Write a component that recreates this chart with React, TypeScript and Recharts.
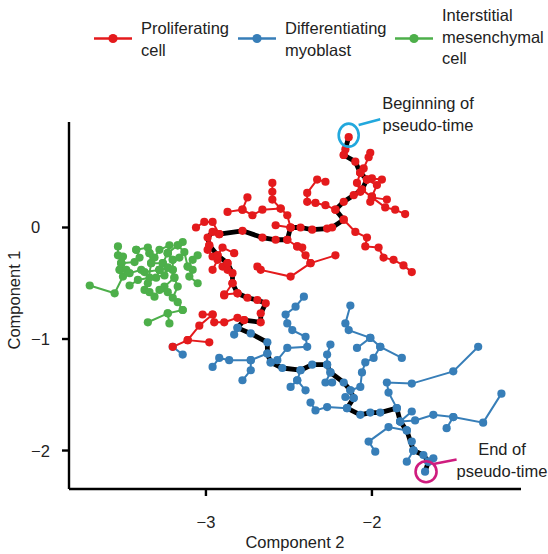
import React from 'react';
import { ScatterChart, Scatter, XAxis, YAxis, ReferenceDot, ReferenceLine } from 'recharts';

type P = [number, number];

// ---- data (Component 2 = x, Component 1 = y) ----
const trajectoryProliferating: P[] = [
  [-2.14, 0.81], [-2.17, 0.65], [-2.10, 0.59], [-2.07, 0.49], [-2.03, 0.43], [-2.06, 0.34],
  [-2.11, 0.29], [-2.17, 0.23], [-2.22, 0.16], [-2.17, 0.07], [-2.24, 0.00], [-2.27, -0.01],
  [-2.36, -0.02], [-2.43, 0.00], [-2.49, 0.00], [-2.51, -0.11], [-2.58, -0.11], [-2.66, -0.09],
  [-2.78, -0.03], [-2.92, -0.06], [-2.96, -0.04], [-2.99, -0.09], [-2.98, -0.16], [-2.93, -0.25],
  [-2.87, -0.32], [-2.84, -0.41], [-2.84, -0.50], [-2.81, -0.59], [-2.75, -0.63], [-2.69, -0.65],
  [-2.64, -0.68], [-2.67, -0.77], [-2.67, -0.85], [-2.77, -0.83],
];

const trajectoryMyoblast: P[] = [
  [-2.81, -0.90], [-2.73, -0.95], [-2.63, -1.03], [-2.63, -1.13], [-2.61, -1.21], [-2.54, -1.26],
  [-2.43, -1.28], [-2.36, -1.23], [-2.27, -1.23], [-2.25, -1.30], [-2.17, -1.39], [-2.13, -1.46],
  [-2.11, -1.53], [-2.15, -1.62], [-2.07, -1.68], [-2.01, -1.66], [-1.95, -1.66], [-1.85, -1.62],
  [-1.83, -1.74], [-1.79, -1.82], [-1.75, -2.00], [-1.69, -2.04], [-1.66, -2.10], [-1.68, -2.19],
];

const proliferatingBranches: P[][] = [
  [[-2.17, 0.65], [-2.16, 0.70]],
  [[-2.07, 0.49], [-2.05, 0.53], [-2.02, 0.63], [-2.01, 0.67]],
  [[-2.03, 0.43], [-2.00, 0.44], [-1.94, 0.43]],
  [[-2.03, 0.43], [-1.97, 0.38], [-2.00, 0.28], [-2.01, 0.23]],
  [[-2.06, 0.34], [-2.00, 0.27], [-1.92, 0.18], [-1.86, 0.16], [-1.80, 0.12]],
  [[-2.00, 0.27], [-1.91, 0.25]],
  [[-2.22, 0.16], [-2.28, 0.20], [-2.34, 0.22], [-2.39, 0.23], [-2.39, 0.31], [-2.33, 0.43], [-2.28, 0.41]],
  [[-2.17, 0.07], [-2.10, -0.04], [-2.03, -0.09], [-2.04, -0.17], [-1.96, -0.18], [-1.93, -0.27], [-1.87, -0.29], [-1.81, -0.34], [-1.76, -0.40]],
  [[-2.49, 0.00], [-2.51, 0.11], [-2.55, 0.17], [-2.60, 0.25], [-2.60, 0.32], [-2.60, 0.40]],
  [[-2.55, 0.17], [-2.66, 0.16], [-2.72, 0.11], [-2.78, 0.16], [-2.87, 0.14]],
  [[-2.78, 0.16], [-2.75, 0.27]],
  [[-2.49, 0.00], [-2.58, 0.02]],
  [[-2.51, -0.11], [-2.45, -0.17], [-2.40, -0.25], [-2.37, -0.32], [-2.22, -0.25]],
  [[-2.37, -0.32], [-2.49, -0.44], [-2.67, -0.38], [-2.69, -0.35]],
  [[-2.45, -0.17], [-2.42, -0.18]],
  [[-3.06, 0.00], [-3.01, 0.05], [-2.96, 0.05], [-2.92, -0.06]],
  [[-2.98, -0.16], [-2.99, -0.20], [-2.96, -0.26], [-2.93, -0.29], [-2.96, -0.38]],
  [[-2.93, -0.25], [-2.90, -0.18], [-2.83, -0.23]],
  [[-2.87, -0.32], [-2.90, -0.35], [-2.87, -0.38]],
  [[-2.84, -0.50], [-2.89, -0.61]],
  [[-2.77, -0.83], [-2.81, -0.81], [-2.89, -0.85], [-2.95, -0.85], [-2.96, -0.78], [-3.02, -0.78]],
  [[-2.96, -0.78], [-3.04, -0.88], [-3.11, -1.01], [-3.20, -1.07]],
  [[-3.11, -1.01], [-2.98, -1.03]],
  [[-2.81, -0.59], [-2.89, -0.60]],
  [[-2.07, 0.49], [-2.09, 0.40], [-2.07, 0.32]],
];

const myoblastBranches: P[][] = [
  [[-2.81, -0.90], [-2.83, -0.96]],
  [[-2.63, -1.13], [-2.73, -1.19], [-2.86, -1.19], [-2.92, -1.17], [-2.96, -1.25]],
  [[-2.73, -1.19], [-2.73, -1.28], [-2.78, -1.37]],
  [[-2.61, -1.21], [-2.57, -1.19], [-2.51, -1.08], [-2.39, -1.07], [-2.40, -0.98], [-2.48, -0.92], [-2.51, -0.86], [-2.52, -0.78], [-2.46, -0.71], [-2.41, -0.62]],
  [[-2.43, -1.28], [-2.45, -1.37], [-2.49, -1.43]],
  [[-2.45, -1.37], [-2.40, -1.46]],
  [[-2.27, -1.23], [-2.27, -1.14], [-2.25, -1.05]],
  [[-2.25, -1.30], [-2.28, -1.39], [-2.24, -1.39]],
  [[-2.13, -1.46], [-2.07, -1.43], [-2.06, -1.30], [-2.04, -1.21], [-1.99, -1.17], [-1.95, -1.07], [-1.82, -1.17]],
  [[-1.95, -1.07], [-2.01, -0.99], [-2.14, -0.92], [-2.16, -0.86], [-2.13, -0.70]],
  [[-2.01, -0.99], [-2.09, -1.08]],
  [[-1.85, -1.62], [-1.90, -1.48], [-1.91, -1.39], [-1.76, -1.40], [-1.51, -1.29], [-1.36, -1.07]],
  [[-1.83, -1.74], [-1.74, -1.73], [-1.63, -1.68], [-1.51, -1.70], [-1.33, -1.75], [-1.22, -1.49]],
  [[-1.51, -1.70], [-1.55, -1.80]],
  [[-1.83, -1.74], [-1.76, -1.65]],
  [[-1.79, -1.82], [-1.90, -1.79], [-2.02, -1.92], [-1.98, -2.01]],
  [[-1.75, -2.00], [-1.79, -2.10]],
  [[-1.66, -2.10], [-1.63, -2.07]],
  [[-2.15, -1.62], [-2.27, -1.61], [-2.34, -1.64], [-2.37, -1.57]],
  [[-2.11, -1.53], [-2.16, -1.52]],
  [[-3.20, -1.07], [-3.14, -1.14]],
  [[-1.75, -2.00], [-1.76, -1.92]],
];

const mesenchymalBranches: P[][] = [
  [[-3.70, -0.52], [-3.55, -0.59], [-3.50, -0.44], [-3.52, -0.38], [-3.51, -0.32], [-3.53, -0.25], [-3.53, -0.17]],
  [[-3.52, -0.38], [-3.48, -0.38], [-3.46, -0.41], [-3.39, -0.38], [-3.37, -0.40], [-3.28, -0.38]],
  [[-3.28, -0.38], [-3.23, -0.36], [-3.20, -0.38], [-3.19, -0.45], [-3.17, -0.53], [-3.20, -0.63], [-3.17, -0.67], [-3.14, -0.74]],
  [[-3.14, -0.74], [-3.23, -0.77], [-3.35, -0.85]],
  [[-3.23, -0.77], [-3.22, -0.86]],
  [[-3.33, -0.32], [-3.35, -0.50], [-3.37, -0.56], [-3.34, -0.58], [-3.31, -0.62]],
  [[-3.42, -0.20], [-3.35, -0.18], [-3.34, -0.23], [-3.33, -0.32], [-3.26, -0.32], [-3.28, -0.38]],
  [[-3.23, -0.23], [-3.20, -0.29], [-3.20, -0.38]],
  [[-3.23, -0.23], [-3.17, -0.16], [-3.14, -0.13]],
  [[-3.17, -0.16], [-3.13, -0.22], [-3.11, -0.35], [-3.08, -0.38], [-3.10, -0.44], [-3.05, -0.50]],
  [[-3.11, -0.35], [-3.08, -0.29], [-3.05, -0.25]],
  [[-3.19, -0.45], [-3.25, -0.53], [-3.23, -0.58], [-3.28, -0.56]],
  [[-3.51, -0.32], [-3.50, -0.26]],
  [[-3.28, -0.38], [-3.30, -0.45]],
  [[-3.26, -0.32], [-3.23, -0.23]],
  [[-3.51, -0.32], [-3.43, -0.31], [-3.40, -0.27], [-3.42, -0.20]],
  [[-3.34, -0.23], [-3.31, -0.27], [-3.28, -0.20], [-3.22, -0.16]],
  [[-3.20, -0.29], [-3.16, -0.27]],
  [[-3.23, -0.36], [-3.25, -0.43], [-3.34, -0.45], [-3.41, -0.47], [-3.46, -0.52]],
];

const xTicks = [-3, -2];
const yTicks = [0, -1, -2];
const legendLabels = [
  ['Proliferating', 'cell'],
  ['Differentiating', 'myoblast'],
  ['Interstitial', 'mesenchymal', 'cell'],
];
const startLabel = ['Beginning of', 'pseudo-time'];
const endLabel = ['End of', 'pseudo-time'];
const startConnector: P[] = [[-2.08, 0.92], [-1.95, 0.97]];
const endConnector: P[] = [[-1.63, -2.12], [-1.49, -2.08]];

// ---- styles ----
const RED = '#E41A1C';
const BLUE = '#377EB8';
const GREEN = '#4DAF4A';
const CYAN = '#22A8DD';
const MAGENTA = '#CF1C7E';
const TEXT = '#222';
const FONT = "'Liberation Sans', Arial, Helvetica, sans-serif";

const W = 548;
const H = 554;
const X_DOMAIN: [number, number] = [-3.825, -1.102];
const Y_DOMAIN: [number, number] = [-2.345, 0.946];

const toObj = (pts: P[]) => pts.map(([x, y]) => ({ x, y }));
const fmt = (v: number) => (v < 0 ? '\u2212' + Math.abs(v) : String(v));
const blank = () => <g />;
const dotShape = (color: string) => (props: any) =>
  props.cx == null ? <g /> : <circle cx={props.cx} cy={props.cy} r={4.1} fill={color} />;

const XTick = (props: any) => (
  <text x={props.x} y={props.y} dy={30} textAnchor="middle" fontSize={16.5} fill={TEXT} fontFamily={FONT}>
    {fmt(props.payload.value)}
  </text>
);
const YTick = (props: any) => (
  <text x={31} y={props.y} dy={6} textAnchor="start" fontSize={16.5} fill={TEXT} fontFamily={FONT}>
    {fmt(props.payload.value)}
  </text>
);

const legendColors = [RED, BLUE, GREEN];
const legendKeyX = [94, 238, 395];

export default function App() {
  const backbone = toObj([...trajectoryProliferating, ...trajectoryMyoblast]);
  const redDots = toObj([...proliferatingBranches.flat(), ...trajectoryProliferating]);
  const blueDots = toObj([...myoblastBranches.flat(), ...trajectoryMyoblast]);
  const greenDots = toObj(mesenchymalBranches.flat());
  const start = trajectoryProliferating[0];
  const end = trajectoryMyoblast[trajectoryMyoblast.length - 1];

  return (
    <div style={{ position: 'fixed', left: 0, top: 0, width: W, height: H, background: '#fff' }}>
      <ScatterChart width={W} height={H} margin={{ top: 122, right: 27, bottom: 35, left: 9 }}>
        <XAxis
          type="number"
          dataKey="x"
          domain={X_DOMAIN}
          allowDataOverflow
          ticks={xTicks}
          tickSize={7}
          height={30}
          axisLine={{ stroke: '#000', strokeWidth: 2.4 }}
          tickLine={{ stroke: '#000', strokeWidth: 2.4 }}
          tick={<XTick />}
        />
        <YAxis
          type="number"
          dataKey="y"
          domain={Y_DOMAIN}
          allowDataOverflow
          ticks={yTicks}
          tickSize={7}
          width={60}
          axisLine={{ stroke: '#000', strokeWidth: 2.4 }}
          tickLine={{ stroke: '#000', strokeWidth: 2.4 }}
          tick={<YTick />}
        />
        {mesenchymalBranches.map((b, i) => (
          <Scatter key={'g' + i} data={toObj(b)} line={{ stroke: GREEN, strokeWidth: 2 }} lineType="joint" shape={blank} isAnimationActive={false} />
        ))}
        {proliferatingBranches.map((b, i) => (
          <Scatter key={'r' + i} data={toObj(b)} line={{ stroke: RED, strokeWidth: 2 }} lineType="joint" shape={blank} isAnimationActive={false} />
        ))}
        {myoblastBranches.map((b, i) => (
          <Scatter key={'b' + i} data={toObj(b)} line={{ stroke: BLUE, strokeWidth: 2 }} lineType="joint" shape={blank} isAnimationActive={false} />
        ))}
        <Scatter
          data={backbone}
          line={{ stroke: '#000', strokeWidth: 4.8, strokeLinejoin: 'round', strokeLinecap: 'round' }}
          lineType="joint"
          shape={blank}
          isAnimationActive={false}
        />
        <Scatter data={greenDots} shape={dotShape(GREEN)} isAnimationActive={false} />
        <Scatter data={blueDots} shape={dotShape(BLUE)} isAnimationActive={false} />
        <Scatter data={redDots} shape={dotShape(RED)} isAnimationActive={false} />
        <ReferenceDot
          x={start[0]}
          y={start[1]}
          r={11}
          ifOverflow="visible"
          shape={(p: any) => (
            <ellipse cx={p.cx} cy={p.cy - 2} rx={10} ry={11.5} fill="none" stroke={CYAN} strokeWidth={2.6} />
          )}
        />
        <ReferenceDot
          x={end[0]}
          y={end[1]}
          r={10}
          ifOverflow="visible"
          shape={(p: any) => (
            <circle cx={p.cx + 1} cy={p.cy} r={10.5} fill="none" stroke={MAGENTA} strokeWidth={2.6} />
          )}
        />
        <ReferenceLine
          segment={startConnector.map(([x, y]) => ({ x, y }))}
          stroke={CYAN}
          strokeWidth={2.6}
          ifOverflow="visible"
        />
        <ReferenceLine
          segment={endConnector.map(([x, y]) => ({ x, y }))}
          stroke={MAGENTA}
          strokeWidth={2.6}
          ifOverflow="visible"
        />
      </ScatterChart>
      <svg
        width={W}
        height={H}
        style={{ position: 'absolute', left: 0, top: 0, pointerEvents: 'none' }}
        fontFamily={FONT}
      >
        {legendLabels.map((lines, i) => {
          const kx = legendKeyX[i];
          const first = lines.length === 3 ? 21 : 34;
          return (
            <g key={'lg' + i}>
              <line x1={kx} x2={kx + 38} y1={38.5} y2={38.5} stroke={legendColors[i]} strokeWidth={2.6} />
              <circle cx={kx + 19} cy={38.5} r={4.6} fill={legendColors[i]} />
              {lines.map((t, j) => (
                <text key={j} x={kx + 47} y={first + j * 21.5} fontSize={16.5} fill={TEXT}>
                  {t}
                </text>
              ))}
            </g>
          );
        })}
        {startLabel.map((t, j) => (
          <text key={'s' + j} x={428} y={109 + j * 22} fontSize={16.5} fill={TEXT} textAnchor="middle">
            {t}
          </text>
        ))}
        {endLabel.map((t, j) => (
          <text key={'e' + j} x={502} y={455 + j * 22} fontSize={16.5} fill={TEXT} textAnchor="middle">
            {t}
          </text>
        ))}
        <text x={295} y={548} fontSize={16.5} fill={TEXT} textAnchor="middle">
          Component 2
        </text>
        <text x={20} y={300} fontSize={16.5} fill={TEXT} textAnchor="middle" transform="rotate(-90 20 300)">
          Component 1
        </text>
      </svg>
    </div>
  );
}
